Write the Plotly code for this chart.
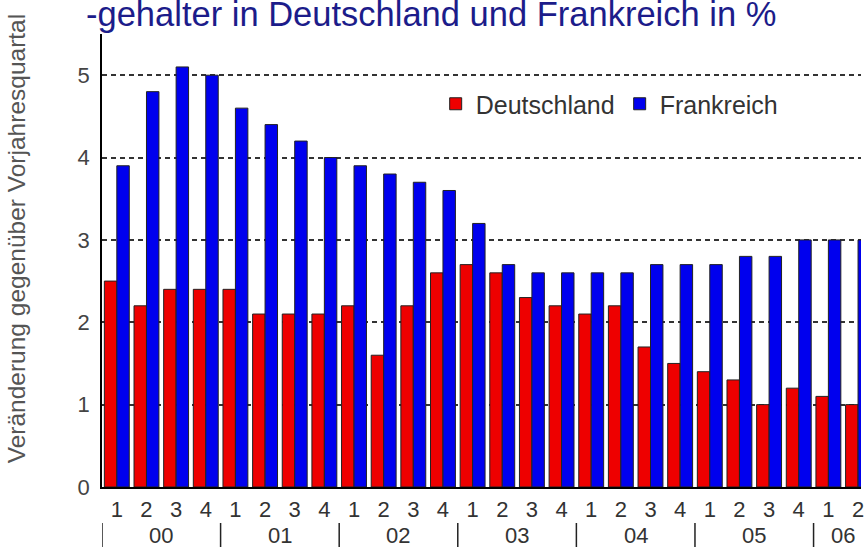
import plotly.graph_objects as go

# ---- data ----
quarter_labels = ["1", "2", "3", "4"] * 6 + ["1", "2"]
year_labels = ["00", "01", "02", "03", "04", "05", "06"]
deutschland = [2.5, 2.2, 2.4, 2.4, 2.4, 2.1, 2.1, 2.1, 2.2, 1.6, 2.2, 2.6,
               2.7, 2.6, 2.3, 2.2, 2.1, 2.2, 1.7, 1.5, 1.4, 1.3, 1.0, 1.2,
               1.1, 1.0]
frankreich = [3.9, 4.8, 5.1, 5.0, 4.6, 4.4, 4.2, 4.0, 3.9, 3.8, 3.7, 3.6,
              3.2, 2.7, 2.6, 2.6, 2.6, 2.6, 2.7, 2.7, 2.7, 2.8, 2.8, 3.0,
              3.0, 3.0]
y_ticks = [0, 1, 2, 3, 4, 5]
title_text = "-gehalter in Deutschland und Frankreich in %"
y_title = "Veränderung gegenüber Vorjahresquartal"

idx = list(range(len(quarter_labels)))

# year of each bar
bar_year = [year_labels[i // 4] for i in idx]

W, H = 864, 547
ML, MR, MT, MB = 102, 0, 34, 60
PW, PH = W - ML - MR, H - MT - MB
XR = [-0.5, 25.1]


def py(pixel_y):
    """pixel y (from top) -> paper y"""
    return (H - MB - pixel_y) / PH


def px(pixel_x):
    return (pixel_x - ML) / PW


NARROW = "Liberation Sans Narrow, Arial Narrow, Liberation Sans, Arial"

fig = go.Figure()
fig.add_trace(go.Bar(x=idx, y=deutschland, name="Deutschland",
                     marker=dict(color="#ee0000", line=dict(color="#222222", width=1))))
fig.add_trace(go.Bar(x=idx, y=frankreich, name="Frankreich",
                     marker=dict(color="#0000ee", line=dict(color="#222222", width=1))))

# year labels and dividers
annotations = []
shapes = []
for y in year_labels:
    members = [i for i in idx if bar_year[i] == y]
    centre = (members[0] + members[-1]) / 2
    annotations.append(dict(x=centre, xref="x", y=py(535), yref="paper",
                            text=y, showarrow=False, yanchor="middle",
                            font=dict(family=NARROW, size=22, color="#333333")))
    shapes.append(dict(type="line", xref="x", yref="paper",
                       x0=members[0] - 0.5, x1=members[0] - 0.5,
                       y0=py(523), y1=py(550),
                       line=dict(color="#222222", width=1.5)))

annotations.append(dict(x=px(84), xref="paper", y=py(14), yref="paper",
                        text=title_text, showarrow=False, xanchor="left",
                        yanchor="middle",
                        font=dict(family="Liberation Sans, Arial", size=34.5,
                                  color="#1c1c8a")))
annotations.append(dict(x=px(17), xref="paper", y=py(238), yref="paper",
                        text=y_title, showarrow=False, textangle=-90,
                        xanchor="center", yanchor="middle",
                        font=dict(family="Liberation Sans, Arial", size=24.5,
                                  color="#555555")))

fig.update_layout(
    width=W, height=H,
    margin=dict(l=ML, r=MR, t=MT, b=MB, pad=0),
    paper_bgcolor="white", plot_bgcolor="white",
    barmode="group", bargap=0.16, bargroupgap=0,
    font=dict(family="Liberation Sans, Arial", color="#333333"),
    showlegend=True,
    legend=dict(orientation="h", x=px(437), y=py(104), xanchor="left",
                yanchor="middle", bgcolor="rgba(0,0,0,0)",
                font=dict(size=25, color="#333333")),
    annotations=annotations,
    shapes=shapes,
    xaxis=dict(range=XR, tickmode="array", tickvals=idx, ticktext=quarter_labels,
               showgrid=False, zeroline=False, showline=True, linecolor="black",
               linewidth=2, ticks="", ticklabelstandoff=2,
               ticklabeloverflow="allow",
               tickfont=dict(family=NARROW, size=22, color="#333333")),
    yaxis=dict(range=[0, 5.5], tickmode="array", tickvals=y_ticks,
               showgrid=True, gridcolor="#333333", gridwidth=1.6,
               griddash="5px,4px", zeroline=False, showline=True,
               linecolor="black", linewidth=1.5, ticks="",
               ticklabelstandoff=6,
               tickfont=dict(size=22, color="#444444")),
)

fig.write_html("out.html", config={"displayModeBar": False},
               post_script="document.body.style.margin='0';document.body.style.overflow='hidden';")
